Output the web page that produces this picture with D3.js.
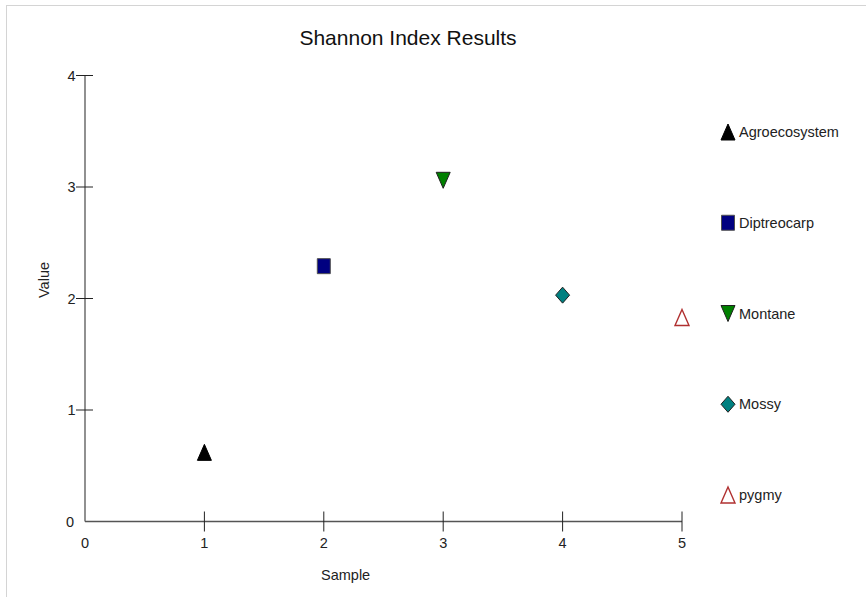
<!DOCTYPE html>
<html><head><meta charset="utf-8">
<script src="https://cdn.jsdelivr.net/npm/d3@7"></script>
<style>body{margin:0;background:#fff}svg{display:block}text{font-family:"Liberation Sans",Arial,sans-serif}</style>
</head><body>
<svg id="c" width="866" height="597"></svg>
<script>
const seriesNames = ["Agroecosystem","Diptreocarp","Montane","Mossy","pygmy"];
const sampleX = [1,2,3,4,5];
const values = [0.62,2.29,3.06,2.03,1.83];
const fills = ["#000000","#000080","#008000","#008080","none"];
const strokes = ["#000000","#505050","#202020","#202020","#b03030"];
const shapes = ["triangle","square","triangleDown","diamond","triangle"];
const xTicks = [0,1,2,3,4,5];
const yTicks = [0,1,2,3,4];

const svg = d3.select("#c");
svg.append("rect").attr("x",6.5).attr("y",5.5).attr("width",900).attr("height",700)
  .attr("fill","none").attr("stroke","#d4d4d4");

const x = d3.scaleLinear().domain([0,5]).range([85,682]);
const y = d3.scaleLinear().domain([0,4]).range([521.5,75.5]);
const axisCol = "#555";
const fs = 14.5;

svg.append("text").attr("x",408).attr("y",45).attr("text-anchor","middle")
  .attr("font-size",21).attr("fill","#111").text("Shannon Index Results");

// x axis
const gx = svg.append("g");
gx.append("line").attr("x1",x(0)).attr("x2",x(5)).attr("y1",y(0)).attr("y2",y(0)).attr("stroke",axisCol).attr("stroke-width",1.3);
gx.selectAll("line.t").data(xTicks.filter(d=>d>0)).join("line").attr("class","t")
  .attr("x1",d=>x(d)).attr("x2",d=>x(d)).attr("y1",y(0)-10).attr("y2",y(0)+10).attr("stroke","#222");
gx.selectAll("text").data(xTicks).join("text").attr("x",d=>x(d)).attr("y",y(0)+26)
  .attr("text-anchor","middle").attr("font-size",fs).attr("fill","#222").text(d=>d);

// y axis
const gy = svg.append("g");
gy.append("line").attr("x1",x(0)).attr("x2",x(0)).attr("y1",y(0)).attr("y2",y(4)).attr("stroke",axisCol).attr("stroke-width",1.3);
gy.selectAll("line.t").data(yTicks.filter(d=>d>0)).join("line").attr("class","t")
  .attr("x1",x(0)-9).attr("x2",x(0)+8).attr("y1",d=>y(d)).attr("y2",d=>y(d)).attr("stroke","#222");
gy.selectAll("text").data(yTicks).join("text").attr("x",d=>d===0?74:75.5).attr("y",d=>y(d)+5)
  .attr("text-anchor","end").attr("font-size",fs).attr("fill","#222").text(d=>d);

svg.append("text").attr("x",321).attr("y",580).attr("font-size",fs).attr("fill","#222").text("Sample");
svg.append("text").attr("transform","translate(49,280) rotate(-90)").attr("text-anchor","middle")
  .attr("font-size",fs).attr("fill","#222").text("Value");

function marker(g, shape, cx, cy, fill, stroke){
  let p;
  if(shape==="triangle") p=[[cx,cy-8],[cx+7,cy+8],[cx-7,cy+8]];
  else if(shape==="triangleDown") p=[[cx-7,cy-8],[cx+7,cy-8],[cx,cy+8]];
  else if(shape==="diamond") p=[[cx,cy-8],[cx+7,cy],[cx,cy+8],[cx-7,cy]];
  else p=[[cx-6.5,cy-7.5],[cx+6.5,cy-7.5],[cx+6.5,cy+7.5],[cx-6.5,cy+7.5]];
  g.append("path").attr("d",d3.line()(p)+"Z").attr("fill",fill==="none"?"#fff":fill)
   .attr("stroke",stroke).attr("stroke-width",fill==="none"?1.4:1);
}

const gp = svg.append("g");
values.forEach((v,i)=>marker(gp, shapes[i], x(sampleX[i]), y(v), fills[i], strokes[i]));

// legend
const legY = d3.scaleLinear().domain([0,4]).range([132,495]);
const gl = svg.append("g");
seriesNames.forEach((n,i)=>{
  marker(gl, shapes[i], 728, legY(i), fills[i], strokes[i]);
  gl.append("text").attr("x",739).attr("y",legY(i)+5).attr("font-size",fs).attr("fill","#222").text(n);
});
</script>
</body></html>
